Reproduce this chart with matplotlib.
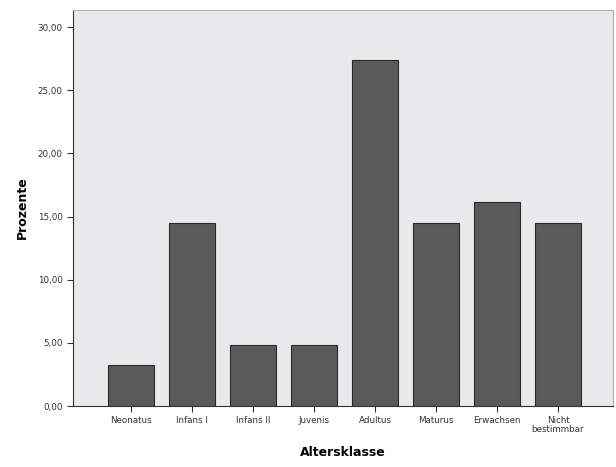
import numpy as np
import matplotlib
matplotlib.use("Agg")
import matplotlib.pyplot as plt

# Altersklassen und Anteile in Prozent
categories = ["Neonatus", "Infans I", "Infans II", "Juvenis", "Adultus",
              "Maturus", "Erwachsen", "Nicht\nbestimmbar"]
percent = [3.23, 14.52, 4.84, 4.84, 27.42, 14.52, 16.13, 14.52]
yticks = [0, 5, 10, 15, 20, 25, 30]

fig = plt.figure(figsize=(6.16, 4.67), dpi=100)
fig.patch.set_facecolor("white")
ax = fig.add_axes([0.1185, 0.1306, 0.8765, 0.848])
ax.set_facecolor("#e9e9eb")

x = np.arange(len(categories))
ax.bar(x, percent, width=0.75, color="#5a5a5a", edgecolor="#2a2a2a", linewidth=0.8, zorder=2)

ax.set_xlim(-0.95, 7.9)
ax.set_ylim(0, 31.35)
ax.set_xticks(x)
ax.set_xticklabels(categories, fontsize=6.3, color="#333333", linespacing=0.9)
ax.set_yticks(yticks)
ax.set_yticklabels([f"{v:.2f}".replace(".", ",") for v in yticks], fontsize=6.3, color="#333333")
ax.tick_params(axis="both", direction="out", length=4, width=0.8, color="#333333")

ax.set_xlabel("Altersklasse", fontsize=9, fontweight="bold", labelpad=9)
ax.set_ylabel("Prozente", fontsize=9, fontweight="bold", labelpad=6)

ax.spines["left"].set_color("#333333")
ax.spines["bottom"].set_color("#333333")
ax.spines["top"].set_color("#b0b0b0")
ax.spines["right"].set_color("#b0b0b0")

fig.savefig("out.png", dpi=100)
